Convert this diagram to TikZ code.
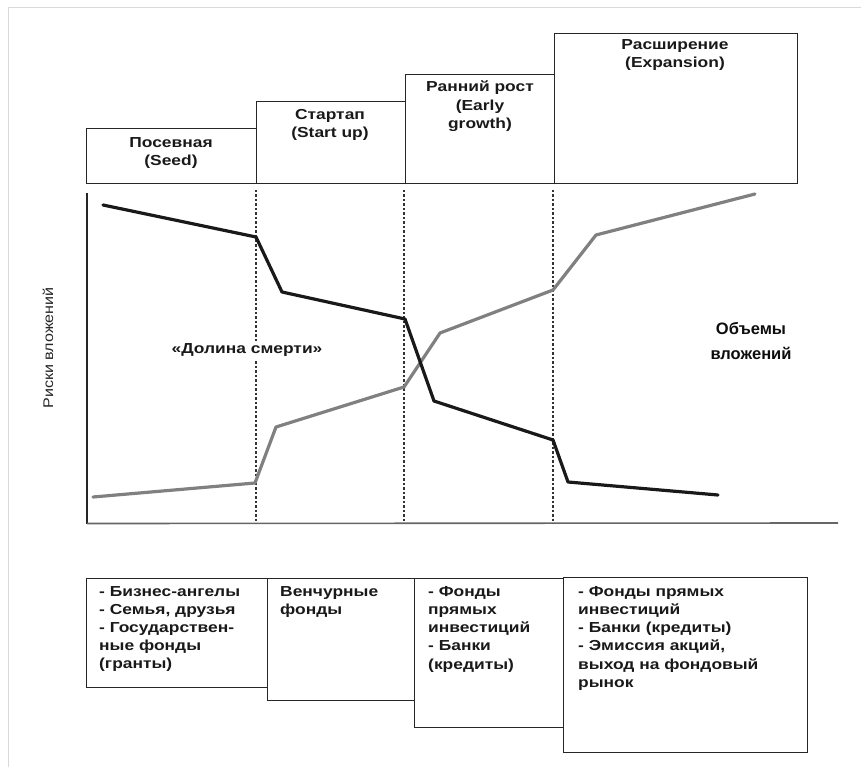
\documentclass[tikz,border=0pt]{standalone}
\usepackage{fontspec}
\setmainfont{Liberation Sans}
\newfontfamily\wide[FakeStretch=1.2]{Liberation Sans}
\newfontfamily\widerisk[FakeStretch=1.15]{Liberation Sans}
\begin{document}
\begin{tikzpicture}[x=1pt,y=-1pt,
  box/.style={draw=black!85,line width=1.3pt,anchor=north west,inner sep=0pt},
  stagetxt/.style={anchor=north,align=center,text=black!90,font=\wide\bfseries\fontsize{14.5}{18.5}\selectfont,inner sep=0pt},
  fundtxt/.style={anchor=north west,align=left,text=black!90,font=\wide\bfseries\fontsize{14.5}{18.2}\selectfont,inner sep=0pt},
  riskline/.style={line width=3.2pt,black!90,line join=round,line cap=round},
  volline/.style={line width=3.2pt,black!50,line join=round,line cap=round},
  divider/.style={line width=1.1pt,black!80,dash pattern=on 2.5pt off 2pt}]
\useasboundingbox (0,0) rectangle (861,767);
% outer faint frame
\draw[black!15,line width=1pt] (8,767) -- (8,8) -- (861,8);

% stage boxes
\node[box,minimum width=170,minimum height=55] (seed) at (86,128) {};
\node[box,minimum width=149,minimum height=82] (start) at (256,101) {};
\node[box,minimum width=149,minimum height=109] (early) at (405,74) {};
\node[box,minimum width=243,minimum height=150] (exp) at (554,33) {};
\node[stagetxt] (seedt) at (171,137) {Посевная\\(Seed)};
\node[stagetxt] (startt) at (330,109) {Стартап\\(Start up)};
\node[stagetxt] (earlyt) at (480,81) {Ранний рост\\(Early\\growth)};
\node[stagetxt] (expt) at (675,39) {Расширение\\(Expansion)};

% axes
\coordinate (ytop) at (87,193);
\coordinate (orig) at (87,523.5);
\coordinate (xend) at (838,523);
\draw[black!85,line width=1.4pt] (ytop) -- (orig);
\draw[black!60,line width=1.6pt] (orig) -- (xend);

% dividers
\coordinate (d1t) at (256,190); \coordinate (d1b) at (256,523);
\coordinate (d2t) at (404,190); \coordinate (d2b) at (404,523);
\coordinate (d3t) at (553,190); \coordinate (d3b) at (553,523);
\draw[divider] (d1t) -- (d1b);
\draw[divider] (d2t) -- (d2b);
\draw[divider] (d3t) -- (d3b);

% volume line (grey)
\coordinate (v1) at (93,497);
\coordinate (v2) at (255,483);
\coordinate (v3) at (276,427);
\coordinate (v4) at (404,387);
\coordinate (v5) at (440,333);
\coordinate (v6) at (553,290);
\coordinate (v7) at (596,235);
\coordinate (v8) at (755,194);
\draw[volline] (v1) -- (v2) -- (v3) -- (v4) -- (v5) -- (v6) -- (v7) -- (v8);

% risk line (black)
\coordinate (r1) at (103,205);
\coordinate (r2) at (256,237);
\coordinate (r3) at (282,292);
\coordinate (r4) at (405,319);
\coordinate (r5) at (434,401);
\coordinate (r6) at (553,440);
\coordinate (r7) at (568,482);
\coordinate (r8) at (718,495);
\draw[riskline] (r1) -- (r2) -- (r3) -- (r4) -- (r5) -- (r6) -- (r7) -- (r8);

% labels
\node[fill=white,inner xsep=4pt,inner ysep=3pt,text=black!90,font=\wide\bfseries\fontsize{14.5}{16}\selectfont] (valley) at (247,350) {«Долина смерти»};
\node[rotate=90,text=black!85,font=\widerisk\fontsize{14}{16}\selectfont] (risk) at (48,348) {Риски вложений};
\node[align=center,text=black!95,font=\bfseries\fontsize{16.5}{25}\selectfont] (vol) at (751,341) {Объемы\\вложений};

% fund boxes
\node[box,minimum width=181,minimum height=109] (f1) at (86,578) {};
\node[box,minimum width=147,minimum height=122] (f2) at (267,578) {};
\node[box,minimum width=149,minimum height=149] (f3) at (414,578) {};
\node[box,minimum width=244,minimum height=175] (f4) at (563,577) {};
\node[fundtxt] (f1t) at (99,586) {- Бизнес-ангелы\\- Семья, друзья\\- Государствен-\\ные фонды\\(гранты)};
\node[fundtxt] (f2t) at (280,586) {Венчурные\\фонды};
\node[fundtxt] (f3t) at (428,586) {- Фонды\\прямых\\инвестиций\\- Банки\\(кредиты)};
\node[fundtxt] (f4t) at (578,586) {- Фонды прямых\\инвестиций\\- Банки (кредиты)\\- Эмиссия акций,\\выход на фондовый\\рынок};
\end{tikzpicture}
\end{document}
